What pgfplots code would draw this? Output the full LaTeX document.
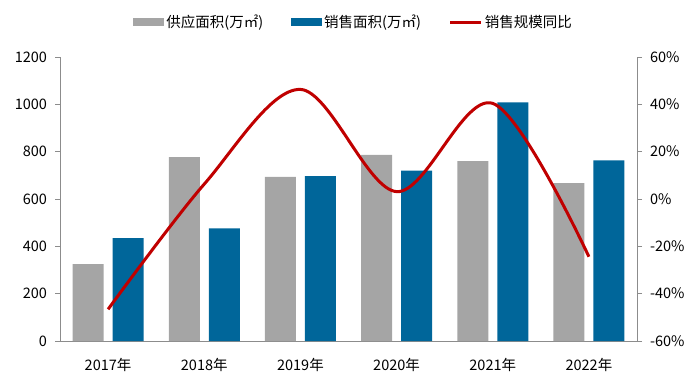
\documentclass[border=0pt]{standalone}
\usepackage{fontspec}
\setmainfont{Noto Sans CJK SC}
\usepackage{pgfplots}
\pgfplotsset{compat=1.18}
\definecolor{cgray}{HTML}{A5A5A5}
\definecolor{cblue}{HTML}{00669A}
\definecolor{cred}{HTML}{C00000}
\definecolor{caxis}{HTML}{8C8C8C}
\begin{document}
\fontsize{14.5}{17}\selectfont
\begin{tikzpicture}
\path[use as bounding box] (0,0) rectangle (700pt,388pt);
\begin{axis}[
  at={(60pt,47pt)}, anchor=south west,
  scale only axis, width=577pt, height=284pt,
  xmin=-0.5, xmax=5.5, ymin=0, ymax=1200,
  ytick={0,200,...,1200},
  xtick={0,1,2,3,4,5},
  xticklabels={2017年,2018年,2019年,2020年,2021年,2022年},
  axis x line*=bottom, axis y line*=left,
  axis line style={-, draw=caxis, line width=1pt},
  xtick style={draw=none},
  ytick style={draw=caxis, line width=0.8pt},
  major tick length=5pt, tick align=outside,
  /pgf/number format/assume math mode=true,
  /pgf/number format/.cd, 1000 sep={}, /pgfplots/.cd,
  tick label style={font=\fontsize{14.5}{17}\selectfont},
  yticklabel style={xshift=-3pt},
  xticklabel style={yshift=-7pt},
  ybar, bar width=31pt,
  legend columns=3,
  legend style={draw=none, fill=none, at={(0.509,1.123)}, anchor=center,
    font=\fontsize{14.5}{17}\selectfont,
    /tikz/every even column/.append style={column sep=26pt}},
  legend cell align=left,
]
\addplot[ybar, bar shift=-20pt, fill=cgray, draw=none,
  legend image code/.code={\fill[cgray] (0pt,-4pt) rectangle (31pt,4pt);}]
  coordinates {(0,325) (1,777) (2,694) (3,786) (4,760) (5,667)};
\addlegendentry{供应面积(万㎡)}
\addplot[ybar, bar shift=20pt, fill=cblue, draw=none,
  legend image code/.code={\fill[cblue] (0pt,-4pt) rectangle (31pt,4pt);}]
  coordinates {(0,435) (1,476) (2,697) (3,720) (4,1008) (5,763)};
\addlegendentry{销售面积(万㎡)}
\addlegendimage{legend image code/.code={\draw[cred, line width=3pt] (0pt,0pt) -- (31pt,0pt);}}
\addlegendentry{销售规模同比}
\end{axis}
\begin{axis}[
  at={(60pt,47pt)}, anchor=south west,
  scale only axis, width=577pt, height=284pt,
  xmin=-0.5, xmax=5.5, ymin=-60, ymax=60,
  ytick={-60,-40,...,60},
  axis x line=none, axis y line*=right,
  axis line style={-, draw=caxis, line width=1pt},
  ytick style={draw=caxis, line width=0.8pt},
  major tick length=5pt, tick align=outside,
  /pgf/number format/assume math mode=true,
  yticklabel={\pgfmathprintnumber{\tick}\%},
  tick label style={font=\fontsize{14.5}{17}\selectfont},
  yticklabel style={xshift=3pt},
]
\addplot[cred, line width=3pt, smooth, tension=0.55, mark=none]
  coordinates {(0,-46.6) (1,6.3) (2,46.3) (3,3.1) (4,40.4) (5,-24.4)};
\end{axis}
\end{tikzpicture}
\end{document}
